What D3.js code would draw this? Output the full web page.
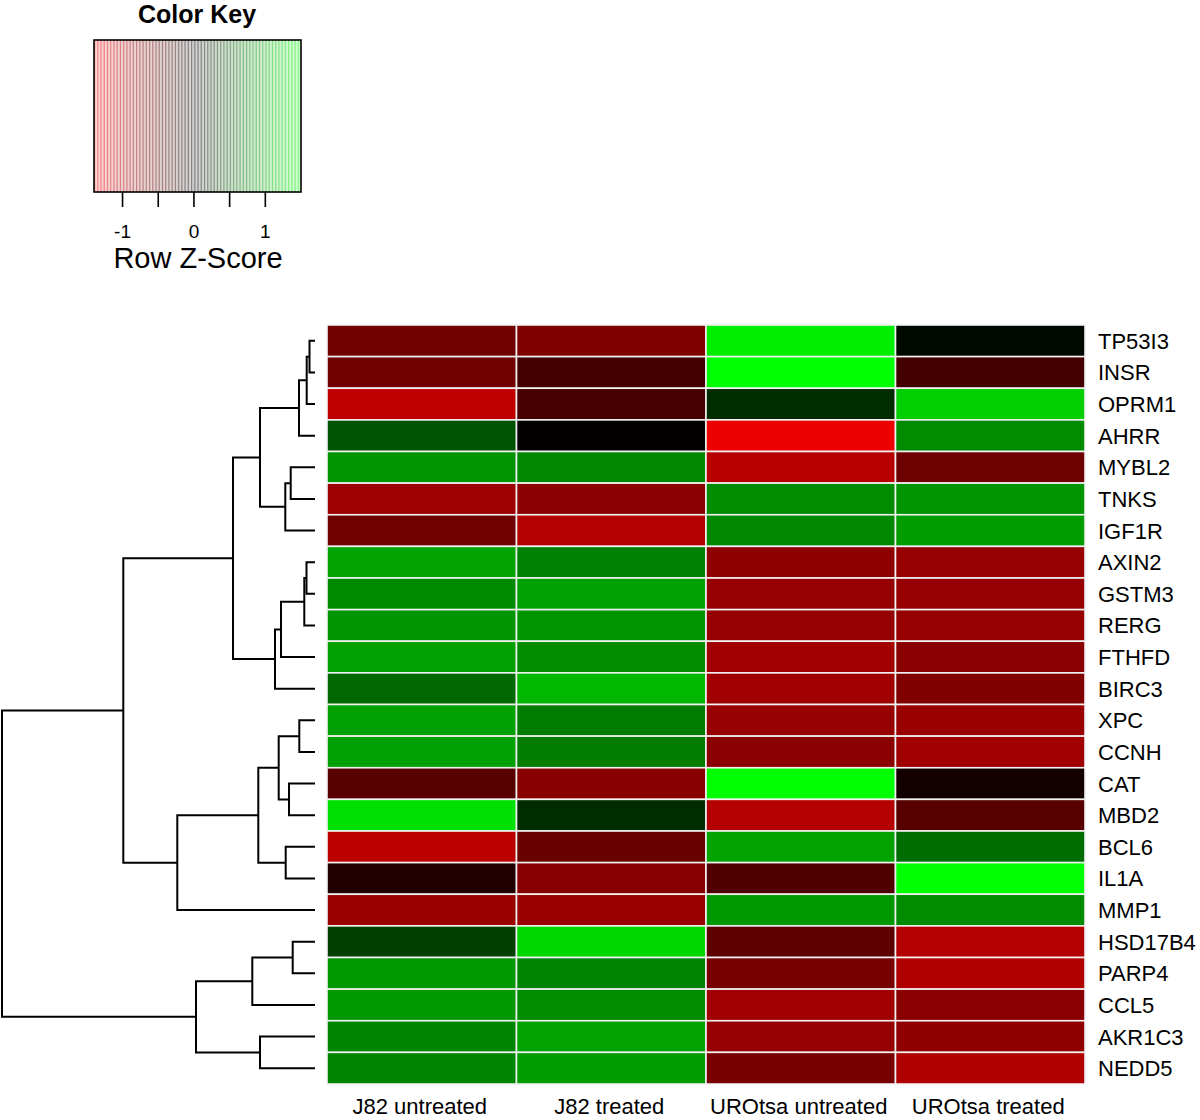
<!DOCTYPE html>
<html>
<head>
<meta charset="utf-8">
<script src="https://cdn.jsdelivr.net/npm/d3@7"></script>
<style>
  html, body { margin: 0; padding: 0; background: #fff; }
  svg { display: block; font-family: "Liberation Sans", Arial, Helvetica, sans-serif; }
</style>
</head>
<body>
<svg id="chart" width="1200" height="1120"></svg>
<script>
// ---- Data ----
const genes = ["TP53I3","INSR","OPRM1","AHRR","MYBL2","TNKS","IGF1R","AXIN2","GSTM3","RERG",
  "FTHFD","BIRC3","XPC","CCNH","CAT","MBD2","BCL6","IL1A","MMP1","HSD17B4","PARP4","CCL5","AKR1C3","NEDD5"];
const samples = ["J82 untreated","J82 treated","UROtsa untreated","UROtsa treated"];
// Row z-scores (columns follow `samples`)
const zJ82untreated   = [-0.66,-0.67,-1.13, 0.49, 0.87,-0.92,-0.66, 0.96, 0.81, 0.87, 0.94, 0.61, 0.94, 0.94,-0.52, 1.32,-1.10,-0.19,-0.90, 0.38, 0.89, 0.89, 0.78, 0.78];
const zJ82treated     = [-0.74,-0.40,-0.42,-0.02, 0.80,-0.82,-1.06, 0.75, 0.94, 0.87, 0.82, 1.08, 0.73, 0.73,-0.80, 0.26,-0.61,-0.80,-0.90, 1.27, 0.78, 0.82, 0.96, 0.92];
const zUROuntreated   = [ 1.40, 1.50, 0.26,-1.40,-1.08, 0.82, 0.80,-0.84,-0.89,-0.89,-0.94,-0.94,-0.89,-0.82, 1.50,-1.06, 0.96,-0.47, 0.89,-0.54,-0.71,-0.94,-0.89,-0.71];
const zUROtreated     = [ 0.05,-0.40, 1.22, 0.82,-0.64, 0.87, 0.92,-0.89,-0.89,-0.89,-0.82,-0.75,-0.90,-0.94,-0.12,-0.52, 0.64, 1.50, 0.82,-1.06,-1.04,-0.82,-0.85,-1.04];
const seriesValues = [zJ82untreated, zJ82treated, zUROuntreated, zUROtreated];
// Row dendrogram merges: [node, childA, childB, height]
const merges = [
  ["m1","TP53I3","INSR",0.055],
  ["m2","m1","OPRM1",0.083],
  ["m3","m2","AHRR",0.16],
  ["m4","MYBL2","TNKS",0.243],
  ["m5","m4","IGF1R",0.297],
  ["m6","m3","m5",0.55],
  ["m7","AXIN2","GSTM3",0.085],
  ["m8","m7","RERG",0.107],
  ["m9","m8","FTHFD",0.34],
  ["m10","m9","BIRC3",0.40],
  ["m11","m6","m10",0.82],
  ["m12","XPC","CCNH",0.157],
  ["m13","CAT","MBD2",0.26],
  ["m14","m12","m13",0.363],
  ["m15","BCL6","IL1A",0.293],
  ["m16","m14","m15",0.567],
  ["m17","m16","MMP1",1.377],
  ["m18","m11","m17",1.917],
  ["m19","HSD17B4","PARP4",0.223],
  ["m20","m19","CCL5",0.627],
  ["m21","AKR1C3","NEDD5",0.55],
  ["m22","m20","m21",1.19],
  ["m23","m18","m22",3.13]
];
const keyTicks = [-1, -0.5, 0, 0.5, 1];
const keyTickLabels = [-1, 0, 1];
const keyDomain = [-1.4, 1.5];

// ---- Layout ----
const svg = d3.select("#chart");
const hm = {x0: 327, x1: 1085, y0: 325, y1: 1084};
const x = d3.scaleBand().domain(samples).range([hm.x0, hm.x1]);
const y = d3.scaleBand().domain(genes).range([hm.y0, hm.y1]);
const color = d3.scaleLinear().domain([-1.5, 0, 1.5]).range(["#ff0000", "#000000", "#00ff00"]).clamp(true);

// Heatmap cells
const cells = [];
genes.forEach((g, i) => samples.forEach((s, j) => cells.push({g, s, v: seriesValues[j][i]})));
svg.append("g").selectAll("rect").data(cells).join("rect")
  .attr("x", d => x(d.s)).attr("y", d => y(d.g))
  .attr("width", x.bandwidth()).attr("height", y.bandwidth())
  .attr("fill", d => color(d.v))
  .attr("stroke", "#f2f2f2").attr("stroke-width", 1.6);

// Row labels
svg.append("g").selectAll("text").data(genes).join("text")
  .attr("x", hm.x1 + 13).attr("y", d => y(d) + y.bandwidth() / 2 + 8)
  .attr("font-size", 22).attr("fill", "#000").text(d => d);

// Column labels
svg.append("g").selectAll("text").data(samples).join("text")
  .attr("x", d => x(d) + x.bandwidth() / 2 - 2).attr("y", 1114)
  .attr("text-anchor", "middle").attr("font-size", 22).attr("fill", "#000")
  .text(d => d);

// Dendrogram
const hx = d3.scaleLinear().domain([0, 3.13]).range([315, 2]);
const pos = {};
genes.forEach(g => pos[g] = {y: y(g) + y.bandwidth() / 2, h: 0});
const dendro = svg.append("g").attr("fill", "none").attr("stroke", "#000").attr("stroke-width", 2);
merges.forEach(([n, a, b, h]) => {
  const A = pos[a], B = pos[b];
  const path = d3.path();
  path.moveTo(hx(A.h), A.y);
  path.lineTo(hx(h), A.y);
  path.lineTo(hx(h), B.y);
  path.lineTo(hx(B.h), B.y);
  dendro.append("path").attr("d", path.toString());
  pos[n] = {y: (A.y + B.y) / 2, h};
});

// Color key
const kx = d3.scaleLinear().domain(keyDomain).range([94, 301]);
const key = {y0: 40, y1: 192};
const nBins = 64;
const bins = d3.range(nBins).map(i => keyDomain[0] + (keyDomain[1] - keyDomain[0]) * i / nBins);
const binW = (kx(keyDomain[1]) - kx(keyDomain[0])) / nBins;
const kg = svg.append("g");
kg.selectAll("rect.bin").data(bins).join("rect").attr("class", "bin")
  .attr("x", d => kx(d)).attr("y", key.y0).attr("width", binW + 0.3).attr("height", key.y1 - key.y0)
  .attr("fill", d => color(d)).attr("fill-opacity", 0.18);
kg.selectAll("line.stripe").data(bins).join("line").attr("class", "stripe")
  .attr("x1", d => kx(d) + 0.6).attr("x2", d => kx(d) + 0.6)
  .attr("y1", key.y0).attr("y2", key.y1)
  .attr("stroke", d => color(d)).attr("stroke-opacity", 0.35).attr("stroke-width", 1.2);
kg.append("rect").attr("x", kx(keyDomain[0])).attr("y", key.y0)
  .attr("width", kx(keyDomain[1]) - kx(keyDomain[0])).attr("height", key.y1 - key.y0)
  .attr("fill", "none").attr("stroke", "#000").attr("stroke-width", 1.6);
kg.selectAll("line.tick").data(keyTicks).join("line").attr("class", "tick")
  .attr("x1", d => kx(d)).attr("x2", d => kx(d)).attr("y1", key.y1).attr("y2", key.y1 + 15)
  .attr("stroke", "#000").attr("stroke-width", 1.6);
kg.selectAll("text.tl").data(keyTickLabels).join("text").attr("class", "tl")
  .attr("x", d => kx(d)).attr("y", 238).attr("text-anchor", "middle")
  .attr("font-size", 19).text(d => d);
kg.append("text").attr("x", 198).attr("y", 268).attr("text-anchor", "middle")
  .attr("font-size", 29).text("Row Z-Score");
kg.append("text").attr("x", 197).attr("y", 23).attr("text-anchor", "middle")
  .attr("font-size", 25).attr("font-weight", "bold").text("Color Key");
</script>
</body>
</html>
